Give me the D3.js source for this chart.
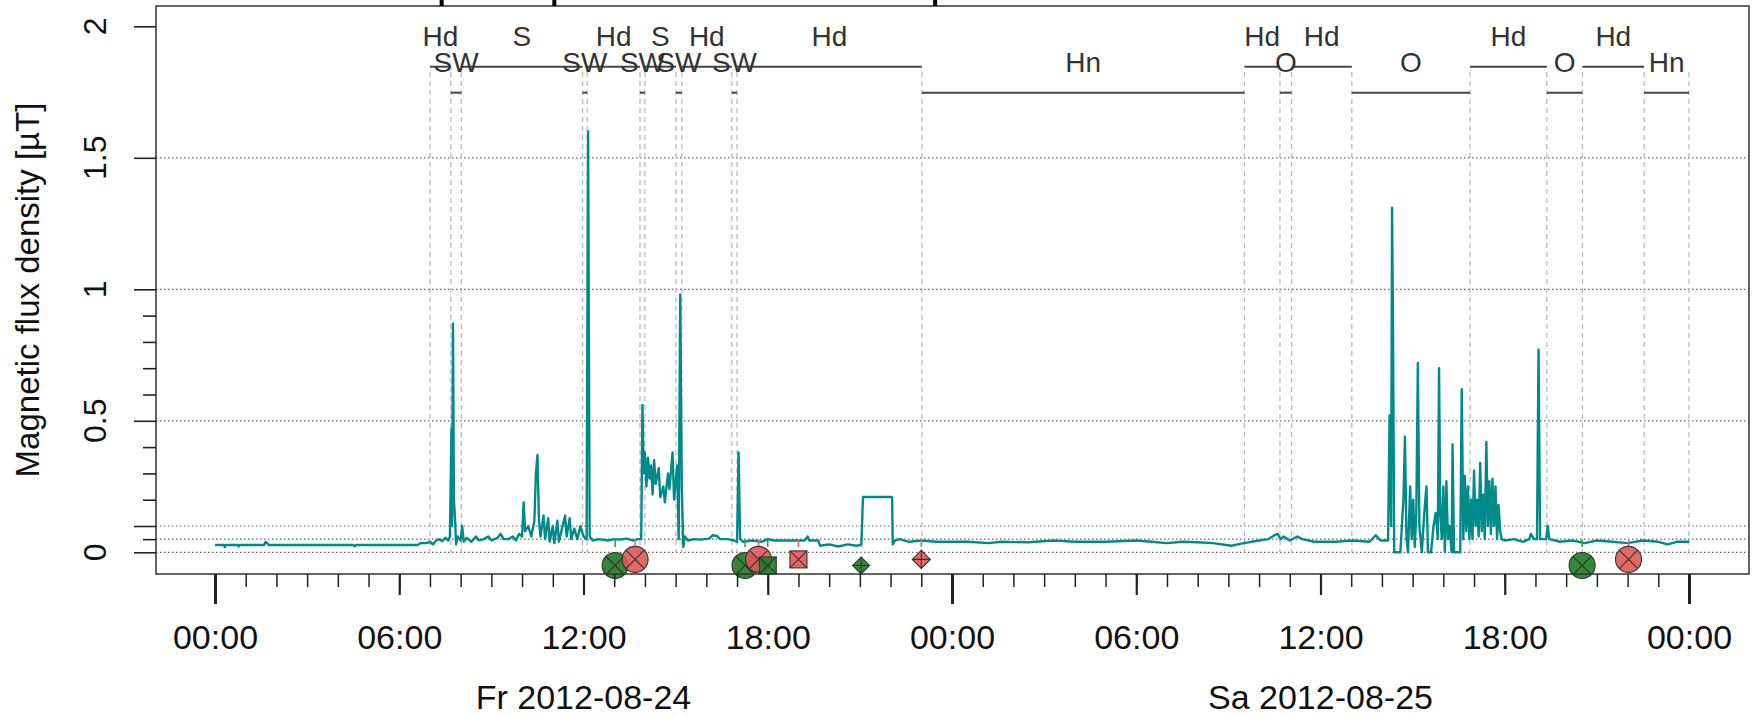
<!DOCTYPE html>
<html>
<head>
<meta charset="utf-8">
<script src="https://cdn.jsdelivr.net/npm/d3@7"></script>
<style>
  body { margin: 0; background: #fff; }
  svg { display: block; }
  text { font-family: "Liberation Sans", Arial, sans-serif; }
</style>
</head>
<body>
<div class="chart"></div>
<script>
// hours counted from Fr 2012-08-24 00:00
const fluxFri = [
  [0.0, 0.028], [0.3, 0.028], [0.32, 0.02], [0.36, 0.028], [0.75, 0.028], [0.77, 0.022], [0.8, 0.028],
  [1.6, 0.028], [1.65, 0.04], [1.75, 0.028], [4.5, 0.028], [4.55, 0.022], [4.6, 0.028], [6.6, 0.028],
  [6.7, 0.035], [6.9, 0.035], [7.0, 0.04], [7.1, 0.03], [7.2, 0.045], [7.3, 0.05], [7.4, 0.042],
  [7.5, 0.055], [7.6, 0.045], [7.65, 0.06], [7.7, 0.47], [7.72, 0.1], [7.75, 0.87], [7.78, 0.2],
  [7.82, 0.12], [7.85, 0.03], [7.9, 0.06], [8.0, 0.045], [8.05, 0.1], [8.1, 0.04], [8.2, 0.055],
  [8.35, 0.04], [8.5, 0.06], [8.6, 0.045], [8.75, 0.05], [8.9, 0.06], [9.0, 0.045], [9.2, 0.055],
  [9.3, 0.07], [9.4, 0.05], [9.55, 0.05], [9.7, 0.06], [9.8, 0.045], [9.9, 0.07], [10.0, 0.06],
  [10.05, 0.19], [10.1, 0.08], [10.2, 0.1], [10.3, 0.06], [10.4, 0.12], [10.45, 0.3], [10.5, 0.37],
  [10.55, 0.12], [10.6, 0.06], [10.7, 0.14], [10.75, 0.05], [10.85, 0.13], [10.9, 0.04], [11.0, 0.1],
  [11.05, 0.035], [11.15, 0.12], [11.2, 0.04], [11.3, 0.09], [11.4, 0.14], [11.45, 0.06], [11.55, 0.13],
  [11.6, 0.05], [11.7, 0.09], [11.8, 0.05], [11.9, 0.1], [12.0, 0.06], [12.1, 0.05], [12.15, 1.6],
  [12.2, 0.06], [12.3, 0.045], [12.5, 0.05], [12.8, 0.045], [13.0, 0.05], [13.2, 0.048], [13.4, 0.052],
  [13.6, 0.045], [13.8, 0.05], [13.88, 0.05], [13.92, 0.56], [13.96, 0.3], [14.0, 0.38], [14.05, 0.25],
  [14.1, 0.36], [14.15, 0.28], [14.2, 0.33], [14.25, 0.22], [14.3, 0.35], [14.35, 0.26], [14.45, 0.32],
  [14.5, 0.21], [14.6, 0.25], [14.65, 0.19], [14.75, 0.3], [14.8, 0.24], [14.9, 0.38], [14.95, 0.2],
  [15.05, 0.33], [15.1, 0.05], [15.15, 0.98], [15.2, 0.25], [15.25, 0.02], [15.3, 0.06], [15.4, 0.045],
  [15.6, 0.05], [15.8, 0.048], [16.1, 0.052], [16.2, 0.065], [16.35, 0.062], [16.45, 0.05], [16.7, 0.05],
  [16.9, 0.045], [17.0, 0.04], [17.05, 0.38], [17.1, 0.05], [17.2, 0.04], [17.5, 0.045], [17.8, 0.04],
  [18.0, 0.05], [18.2, 0.045], [18.6, 0.045], [19.0, 0.045], [19.2, 0.045], [19.3, 0.06], [19.35, 0.045],
  [19.65, 0.045], [19.7, 0.025], [20.0, 0.03], [20.3, 0.022], [20.6, 0.03], [20.9, 0.025], [21.05, 0.03],
  [21.1, 0.21], [22.05, 0.21], [22.07, 0.03], [22.15, 0.045], [22.3, 0.05], [22.6, 0.04], [23.0, 0.045],
  [23.5, 0.04], [24.0, 0.04]
];
const fluxSat = [
  [24.5, 0.04], [25.2, 0.035], [25.6, 0.04], [26.5, 0.038], [27.3, 0.045], [28.0, 0.04], [29.0, 0.04],
  [30.0, 0.045], [30.5, 0.04], [31.0, 0.035], [31.5, 0.04], [32.0, 0.038], [32.5, 0.035], [33.1, 0.025],
  [33.5, 0.035], [34.0, 0.045], [34.3, 0.05], [34.5, 0.065], [34.6, 0.07], [34.7, 0.05], [34.8, 0.06],
  [35.0, 0.045], [35.25, 0.06], [35.4, 0.05], [35.8, 0.04], [36.5, 0.04], [37.0, 0.045], [37.6, 0.04],
  [37.8, 0.065], [37.95, 0.045], [38.2, 0.045], [38.25, 0.52], [38.3, 0.1], [38.33, 1.31], [38.36, 0.88],
  [38.4, 0.0], [38.6, 0.0], [38.65, 0.1], [38.7, 0.2], [38.75, 0.44], [38.8, 0.05], [38.85, 0.0],
  [38.92, 0.25], [38.97, 0.05], [39.02, 0.2], [39.07, 0.02], [39.12, 0.15], [39.17, 0.72], [39.22, 0.1],
  [39.3, 0.0], [39.38, 0.15], [39.45, 0.25], [39.5, 0.0], [39.6, 0.0], [39.68, 0.1], [39.75, 0.15],
  [39.82, 0.05], [39.86, 0.7], [39.9, 0.15], [39.95, 0.05], [40.0, 0.25], [40.05, 0.0], [40.1, 0.27],
  [40.15, 0.05], [40.2, 0.1], [40.27, 0.0], [40.3, 0.41], [40.35, 0.0], [40.55, 0.0], [40.6, 0.62],
  [40.65, 0.05], [40.7, 0.29], [40.75, 0.08], [40.8, 0.25], [40.85, 0.05], [40.9, 0.2], [40.95, 0.05],
  [41.0, 0.31], [41.05, 0.1], [41.1, 0.2], [41.15, 0.06], [41.2, 0.34], [41.25, 0.08], [41.3, 0.22],
  [41.35, 0.05], [41.4, 0.42], [41.45, 0.1], [41.5, 0.27], [41.55, 0.07], [41.6, 0.28], [41.65, 0.1],
  [41.7, 0.25], [41.75, 0.05], [41.8, 0.18], [41.85, 0.08], [41.9, 0.05], [42.0, 0.045], [42.3, 0.05],
  [42.6, 0.04], [42.8, 0.05], [42.85, 0.07], [42.95, 0.05], [43.05, 0.05], [43.1, 0.77], [43.15, 0.05],
  [43.35, 0.05], [43.4, 0.1], [43.45, 0.05], [43.8, 0.04], [44.2, 0.045], [44.6, 0.035], [45.0, 0.045],
  [45.5, 0.04], [46.0, 0.035], [46.5, 0.045], [47.0, 0.04], [47.3, 0.03], [47.6, 0.04], [48.0, 0.04]
];

// activity annotations (two rows)
const upperLabels = ["Hd", "S", "Hd", "S", "Hd", "Hd", "Hd", "Hd", "Hd", "Hd"];
const upperStart = [7.0, 8.02, 12.12, 14.0, 15.2, 17.0, 33.52, 35.06, 40.87, 44.53];
const upperEnd = [7.68, 11.97, 13.84, 15.01, 16.83, 23.02, 34.68, 37.02, 43.37, 46.54];
const lowerLabels = ["SW", "SW", "SW", "SW", "SW", "Hn", "O", "O", "O", "Hn"];
const lowerStart = [7.68, 11.97, 13.84, 15.01, 16.83, 23.02, 34.68, 37.02, 43.37, 46.54];
const lowerEnd = [8.02, 12.12, 14.0, 15.2, 17.0, 33.52, 35.06, 40.87, 44.53, 48.0];

// event markers
const eventHours = [13.03, 13.68, 17.26, 17.7, 18.0, 19.0, 21.04, 23.0, 44.52, 46.03];
const eventKind = ["g", "r", "g", "r", "g", "r", "g", "r", "g", "r"];
const eventShape = ["circle", "circle", "circle", "circle", "square", "square", "diamond", "diamond", "circle", "circle"];

const yLabelTicks = [0, 0.5, 1, 1.5, 2];
const yMajorTicks = [0, 0.1, 0.5, 1, 1.5, 2];
const yMinorTicks = [0.05, 0.2, 0.3, 0.4, 0.6, 0.7, 0.8, 0.9];
const gridLevels = [0, 0.05, 0.1, 0.5, 1, 1.5];
const dayLabels = ["Fr 2012-08-24", "Sa 2012-08-25"];
const topMarks = [7.38, 11.05, 23.45];

const W = 1754, H = 717;
const box = { left: 156, right: 1749, top: 6, bottom: 574 };
const t0 = Date.UTC(2012, 7, 24);
const toDate = h => new Date(t0 + h * 3600000);

const x = d3.scaleUtc().domain([toDate(0), toDate(48)]).range([215, 1689]);
const y = d3.scaleLinear().domain([0, 2]).range([552.3, 26.3]);

const svg = d3.select(".chart").append("svg").attr("width", W).attr("height", H);

// grid
svg.append("g").selectAll("line").data(gridLevels).enter().append("line")
  .attr("x1", box.left).attr("x2", box.right)
  .attr("y1", d => y(d)).attr("y2", d => y(d))
  .attr("stroke", "#666").attr("stroke-width", 1.2).attr("stroke-dasharray", "1.5,2.5");

// activity boundaries
const bounds = Array.from(new Set(upperStart.concat(upperEnd, lowerStart, lowerEnd)));
svg.append("g").selectAll("line").data(bounds).enter().append("line")
  .attr("x1", d => x(toDate(d))).attr("x2", d => x(toDate(d)))
  .attr("y1", 72).attr("y2", y(0))
  .attr("stroke", "#bbb").attr("stroke-width", 1.3).attr("stroke-dasharray", "5,4");

// flux line
const line = d3.line().x(d => x(toDate(d[0]))).y(d => y(d[1]));
svg.append("path").datum(fluxFri.concat(fluxSat))
  .attr("d", line).attr("fill", "none")
  .attr("stroke", "#008B8B").attr("stroke-width", 2.4).attr("stroke-linejoin", "round");

// activity rows
function drawRow(labels, starts, ends, lineY, textY) {
  const g = svg.append("g");
  labels.forEach((lab, i) => {
    const x1 = x(toDate(starts[i])), x2 = x(toDate(ends[i]));
    g.append("line").attr("x1", x1).attr("x2", x2).attr("y1", lineY).attr("y2", lineY)
      .attr("stroke", "#444").attr("stroke-width", 2);
    g.append("text").attr("x", (x1 + x2) / 2).attr("y", textY)
      .attr("text-anchor", "middle").attr("font-size", 28).attr("fill", "#333").text(lab);
  });
}
drawRow(upperLabels, upperStart, upperEnd, 66.7, 45.5);
drawRow(lowerLabels, lowerStart, lowerEnd, 92.7, 71.5);

// markers
const fillCol = { g: "rgba(30,122,30,0.9)", r: "rgba(224,88,88,0.9)" };
const tickCol = { g: "#3a9a3a", r: "#e46a6a" };
const markY = { g: -0.05, r: -0.027 };
const mg = svg.append("g");
eventHours.forEach((h, i) => {
  const k = eventKind[i], cx = x(toDate(h)), cy = y(markY[k]);
  mg.append("line").attr("x1", cx).attr("x2", cx).attr("y1", y(0.05)).attr("y2", y(0.02))
    .attr("stroke", tickCol[k]).attr("stroke-width", 1.5);
  const s = eventShape[i];
  if (s === "circle") {
    const r = 13, q = r * Math.SQRT1_2;
    mg.append("circle").attr("cx", cx).attr("cy", cy).attr("r", r)
      .attr("fill", fillCol[k]).attr("stroke", "#333").attr("stroke-width", 1.1);
    mg.append("path").attr("d", `M${cx - q},${cy - q}L${cx + q},${cy + q}M${cx - q},${cy + q}L${cx + q},${cy - q}`)
      .attr("stroke", "#333").attr("stroke-width", 1.1);
  } else if (s === "square") {
    const a = 8.5;
    mg.append("rect").attr("x", cx - a).attr("y", cy - a).attr("width", 2 * a).attr("height", 2 * a)
      .attr("fill", fillCol[k]).attr("stroke", "#333").attr("stroke-width", 1.1);
    mg.append("path").attr("d", `M${cx - a},${cy - a}L${cx + a},${cy + a}M${cx - a},${cy + a}L${cx + a},${cy - a}`)
      .attr("stroke", "#333").attr("stroke-width", 1.1);
  } else {
    const a = k === "g" ? 8.5 : 9;
    mg.append("path").attr("d", `M${cx},${cy - a}L${cx + a},${cy}L${cx},${cy + a}L${cx - a},${cy}Z`)
      .attr("fill", fillCol[k]).attr("stroke", "#333").attr("stroke-width", 1.1);
    mg.append("path").attr("d", `M${cx},${cy - a}L${cx},${cy + a}M${cx - a},${cy}L${cx + a},${cy}`)
      .attr("stroke", "#333").attr("stroke-width", 1.1);
  }
});

// plot box
svg.append("rect").attr("x", box.left).attr("y", box.top)
  .attr("width", box.right - box.left).attr("height", box.bottom - box.top)
  .attr("fill", "none").attr("stroke", "#333").attr("stroke-width", 1.5);

// marks on top edge
svg.append("g").selectAll("line").data(topMarks).enter().append("line")
  .attr("x1", d => x(toDate(d))).attr("x2", d => x(toDate(d)))
  .attr("y1", 0).attr("y2", box.top)
  .attr("stroke", "#000").attr("stroke-width", 4);

// y axis
const yAxisG = svg.append("g").attr("transform", `translate(${box.left},0)`);
yAxisG.append("g").call(d3.axisLeft(y).tickValues(yMajorTicks).tickSize(22).tickSizeOuter(0).tickFormat(""));
yAxisG.append("g").call(d3.axisLeft(y).tickValues(yMinorTicks).tickSize(13).tickSizeOuter(0).tickFormat(""));
yAxisG.selectAll(".domain").remove();
yAxisG.selectAll(".tick line").attr("stroke", "#222").attr("stroke-width", 1.6);
svg.append("g").selectAll("text").data(yLabelTicks).enter().append("text")
  .attr("transform", d => `translate(106,${y(d)}) rotate(-90)`)
  .attr("text-anchor", "middle").attr("font-size", 32).attr("fill", "#111")
  .text(d => d3.format("")(d));
svg.append("text").attr("transform", `translate(39,${(box.top + box.bottom) / 2}) rotate(-90)`)
  .attr("text-anchor", "middle").attr("font-size", 33).attr("fill", "#111")
  .text("Magnetic flux density [\u00b5T]");

// x axis
const xAxisG = svg.append("g").attr("transform", `translate(0,${box.bottom})`);
xAxisG.append("g").call(d3.axisBottom(x).ticks(d3.utcHour.every(1)).tickSize(13).tickSizeOuter(0).tickFormat(""))
  .selectAll(".tick line").attr("stroke-width", 1.5);
xAxisG.append("g").call(d3.axisBottom(x).ticks(d3.utcHour.every(6)).tickSize(21).tickSizeOuter(0).tickFormat(d3.utcFormat("%H:%M")))
  .call(g => g.selectAll(".tick line").attr("stroke-width", 2.2))
  .call(g => g.selectAll(".tick text").attr("y", 75).attr("dy", 0)
    .attr("font-size", 34).attr("fill", "#111")
    .attr("font-family", "'Liberation Sans', Arial, sans-serif"));
xAxisG.append("g").call(d3.axisBottom(x).ticks(d3.utcDay.every(1)).tickSize(30).tickSizeOuter(0).tickFormat(""))
  .selectAll(".tick line").attr("stroke-width", 3);
xAxisG.selectAll(".domain").remove();
xAxisG.selectAll(".tick line").attr("stroke", "#222");

svg.append("g").selectAll("text").data(dayLabels).enter().append("text")
  .attr("x", (d, i) => x(toDate(12 + 24 * i))).attr("y", 709)
  .attr("text-anchor", "middle").attr("font-size", 34).attr("fill", "#111")
  .text(d => d);
</script>
</body>
</html>
